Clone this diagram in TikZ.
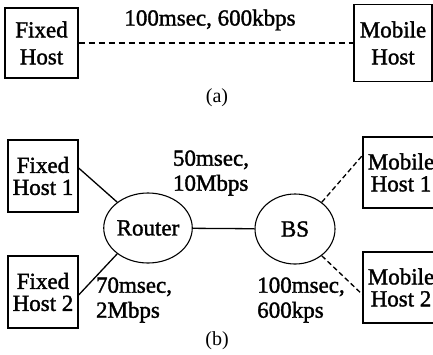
\documentclass[tikz,border=0pt]{standalone}
\usepackage{fontspec}
\setmainfont{Liberation Serif}
\newfontfamily\scanfont[FakeBold=1.5]{Liberation Serif}
\usetikzlibrary{shapes.geometric}

\tikzset{every picture/.style={line width=1.3pt}}
\tikzset{hostbox/.style={draw, align=center, inner sep=0pt, font=\scanfont\fontsize{23}{22}\selectfont},
         netnode/.style={draw, ellipse, line width=1.1pt, minimum width=80pt, minimum height=70pt, inner sep=0pt, font=\scanfont\fontsize{23}{22}\selectfont},
         linklabel/.style={align=left, inner sep=0pt, font=\scanfont\fontsize{23}{25}\selectfont}}

\begin{document}
\begin{tikzpicture}[x=1pt, y=-1pt]
    \useasboundingbox (0,0) rectangle (433,354);
    % (a) single wireless path
    \node[hostbox, minimum width=73pt, minimum height=70pt, font=\scanfont\fontsize{23}{27}\selectfont] (fixed) at (41.5,43) {Fixed\\Host};
    \node[hostbox, minimum width=78pt, minimum height=77pt, font=\scanfont\fontsize{23}{27}\selectfont] (mobile) at (393,43) {Mobile\\Host};
    \draw[dash pattern={on 6pt off 4pt}] (fixed) -- (mobile);
    \node[linklabel] (delaya) at (210,20) {100msec, 600kbps};
    \node[font=\fontsize{20}{20}\selectfont] (capa) at (217,98) {(a)};
    % (b) router and base station
    \node[hostbox, minimum width=70pt, minimum height=72pt] (fixed1) at (43,176) {Fixed\\Host 1};
    \node[hostbox, minimum width=70pt, minimum height=72pt] (fixed2) at (43,292) {Fixed\\Host 2};
    \node[netnode] (router) at (148,228) {Router};
    \node[netnode] (bs) at (295,229) {BS};
    \node[hostbox, minimum width=76pt, minimum height=71pt] (mobile1) at (401,172.5) {Mobile\\Host 1};
    \node[hostbox, minimum width=76pt, minimum height=71pt] (mobile2) at (401,287.5) {Mobile\\Host 2};
    \draw ([yshift=8pt]fixed1.east) -- (router.140);
    \draw ([yshift=-3pt]fixed2.east) -- (router.220);
    \draw (router) -- (bs);
    \draw[dash pattern={on 5pt off 3pt}] (bs.45) -- ([yshift=17pt]mobile1.west);
    \draw[dash pattern={on 5pt off 3pt}] (bs.-45) -- ([yshift=-7pt]mobile2.west);
    \node[linklabel] (backbone) at (211,173) {50msec,\\10Mbps};
    \node[linklabel] (access) at (134,300) {70msec,\\2Mbps};
    \node[linklabel] (wireless) at (301,300) {100msec,\\600kps};
    \node[font=\fontsize{20}{20}\selectfont] (capb) at (217,341) {(b)};
\end{tikzpicture}
\end{document}
